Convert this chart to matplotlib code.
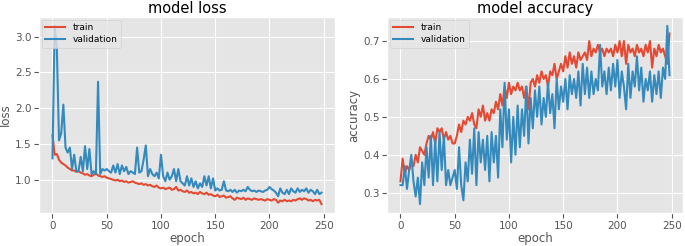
import numpy as np
import matplotlib
matplotlib.use('Agg')
import matplotlib.pyplot as plt

plt.style.use('ggplot')

# values read every 2 epochs
loss_train = [1.62, 1.35, 1.36, 1.28, 1.24, 1.22, 1.20, 1.17, 1.15, 1.13,
              1.13, 1.11, 1.12, 1.10, 1.09, 1.07, 1.08, 1.06, 1.05, 1.07,
              1.09, 1.06, 1.05, 1.04, 1.05, 1.03, 1.02, 1.01, 1.00, 0.99,
              1.00, 0.98, 0.99, 0.97, 0.98, 0.96, 0.97, 0.98, 0.96, 0.95,
              0.94, 0.95, 0.93, 0.94, 0.92, 0.93, 0.91, 0.90, 0.92, 0.89,
              0.88, 0.89, 0.87, 0.88, 0.89, 0.86, 0.87, 0.90, 0.85, 0.86,
              0.84, 0.83, 0.85, 0.82, 0.83, 0.81, 0.82, 0.80, 0.83, 0.81,
              0.80, 0.82, 0.79, 0.80, 0.78, 0.77, 0.79, 0.76, 0.77, 0.78,
              0.75, 0.76, 0.77, 0.74, 0.72, 0.75, 0.74, 0.73, 0.75, 0.72,
              0.74, 0.73, 0.72, 0.74, 0.73, 0.72, 0.73, 0.72, 0.71, 0.73,
              0.72, 0.71, 0.73, 0.72, 0.68, 0.71, 0.70, 0.72, 0.70, 0.71,
              0.70, 0.72, 0.71, 0.73, 0.74, 0.72, 0.74, 0.73, 0.71, 0.72,
              0.70, 0.72, 0.71, 0.72, 0.66]
loss_val = [1.30, 3.15, 2.85, 1.55, 1.65, 2.05, 1.45, 1.38, 1.45, 1.15,
            1.35, 1.12, 1.12, 1.32, 1.12, 1.47, 1.15, 1.43, 1.08, 1.12,
            1.08, 2.37, 1.08, 1.15, 1.13, 1.15, 1.12, 1.10, 1.20, 1.10,
            1.22, 1.08, 1.20, 1.12, 1.18, 1.08, 1.12, 1.10, 1.08, 1.45,
            1.10, 1.12, 1.28, 1.48, 1.05, 1.15, 1.08, 1.05, 1.10, 1.02,
            1.35, 1.05, 0.98, 1.10, 1.00, 1.05, 1.15, 0.98, 1.15, 0.98,
            0.95, 0.92, 1.05, 0.92, 1.02, 0.90, 0.98, 0.88, 0.95, 0.90,
            1.05, 0.92, 1.05, 0.88, 1.02, 0.85, 0.88, 0.85, 0.86, 0.98,
            0.85, 0.84, 0.86, 0.83, 0.86, 0.82, 0.85, 0.84, 0.86, 0.84,
            0.90, 0.86, 0.84, 0.85, 0.83, 0.85, 0.84, 0.83, 0.85, 0.86,
            0.90, 0.87, 0.85, 0.82, 0.77, 0.88, 0.82, 0.80, 0.86, 0.80,
            0.88, 0.84, 0.82, 0.88, 0.83, 0.86, 0.84, 0.88, 0.82, 0.86,
            0.84, 0.80, 0.86, 0.80, 0.82]
acc_train = [0.33, 0.39, 0.35, 0.37, 0.36, 0.38, 0.37, 0.40, 0.38, 0.42,
             0.41, 0.40, 0.43, 0.45, 0.44, 0.46, 0.43, 0.47, 0.46, 0.47,
             0.44, 0.46, 0.44, 0.45, 0.43, 0.43, 0.45, 0.48, 0.46, 0.49,
             0.48, 0.50, 0.49, 0.51, 0.48, 0.47, 0.52, 0.50, 0.53, 0.49,
             0.51, 0.49, 0.52, 0.51, 0.54, 0.52, 0.56, 0.53, 0.58, 0.55,
             0.59, 0.56, 0.58, 0.57, 0.59, 0.57, 0.58, 0.55, 0.58, 0.52,
             0.59, 0.60, 0.58, 0.61, 0.59, 0.62, 0.60, 0.61, 0.58, 0.62,
             0.61, 0.64, 0.60, 0.62, 0.64, 0.62, 0.66, 0.63, 0.67, 0.64,
             0.66, 0.63, 0.67, 0.65, 0.66, 0.67, 0.65, 0.70, 0.66, 0.68,
             0.67, 0.69, 0.67, 0.68, 0.66, 0.68, 0.67, 0.68, 0.66, 0.69,
             0.67, 0.70, 0.66, 0.70, 0.64, 0.69, 0.67, 0.68, 0.66, 0.69,
             0.67, 0.68, 0.66, 0.69, 0.67, 0.70, 0.63, 0.68, 0.66, 0.69,
             0.67, 0.68, 0.66, 0.64, 0.72]
acc_val = [0.32, 0.32, 0.37, 0.31, 0.36, 0.40, 0.33, 0.29, 0.34, 0.27,
           0.38, 0.32, 0.42, 0.34, 0.45, 0.32, 0.44, 0.33, 0.46, 0.36,
           0.45, 0.32, 0.36, 0.32, 0.34, 0.36, 0.31, 0.42, 0.32, 0.28,
           0.38, 0.33, 0.44, 0.35, 0.47, 0.32, 0.46, 0.38, 0.44, 0.36,
           0.45, 0.33, 0.46, 0.38, 0.45, 0.34, 0.52, 0.42, 0.59, 0.44,
           0.52, 0.38, 0.50, 0.40, 0.53, 0.42, 0.52, 0.45, 0.58, 0.43,
           0.55, 0.47, 0.57, 0.50, 0.58, 0.48, 0.55, 0.50, 0.59, 0.51,
           0.56, 0.47, 0.60, 0.52, 0.58, 0.54, 0.60, 0.52, 0.61, 0.56,
           0.60, 0.55, 0.62, 0.53, 0.64, 0.56, 0.63, 0.55, 0.62, 0.56,
           0.60, 0.57, 0.69, 0.58, 0.62, 0.56, 0.63, 0.57, 0.64, 0.58,
           0.65, 0.55, 0.62, 0.58, 0.52, 0.64, 0.55, 0.62, 0.58, 0.66,
           0.57, 0.63, 0.54, 0.60, 0.57, 0.62, 0.54, 0.61, 0.56, 0.62,
           0.55, 0.63, 0.60, 0.74, 0.61]

epochs = np.arange(len(loss_train)) * 2

fig = plt.figure(figsize=(6.85, 2.46), dpi=100)
ax1 = fig.add_axes([0.057, 0.134, 0.432, 0.797])
ax2 = fig.add_axes([0.565, 0.134, 0.432, 0.797])

for ax, tr, va, name in [(ax1, loss_train, loss_val, 'loss'),
                         (ax2, acc_train, acc_val, 'accuracy')]:
    ax.plot(epochs, tr, lw=1.5, label='train')
    ax.plot(epochs, va, lw=1.5, label='validation')
    ax.set_title('model ' + name, fontsize=10.5, pad=3)
    ax.set_ylabel(name, fontsize=8.5, labelpad=2)
    ax.set_xlabel('epoch', fontsize=8.5, labelpad=1)
    ax.tick_params(labelsize=7.5, pad=2)
    ax.set_xticks([0, 50, 100, 150, 200, 250])
    ax.legend(loc='upper left', fontsize=6.5, borderaxespad=0.3,
              handlelength=2.2, labelspacing=0.3)

ax1.set_yticks([1.0, 1.5, 2.0, 2.5, 3.0])
ax2.set_yticks([0.3, 0.4, 0.5, 0.6, 0.7])

fig.savefig('out.png', dpi=100)
